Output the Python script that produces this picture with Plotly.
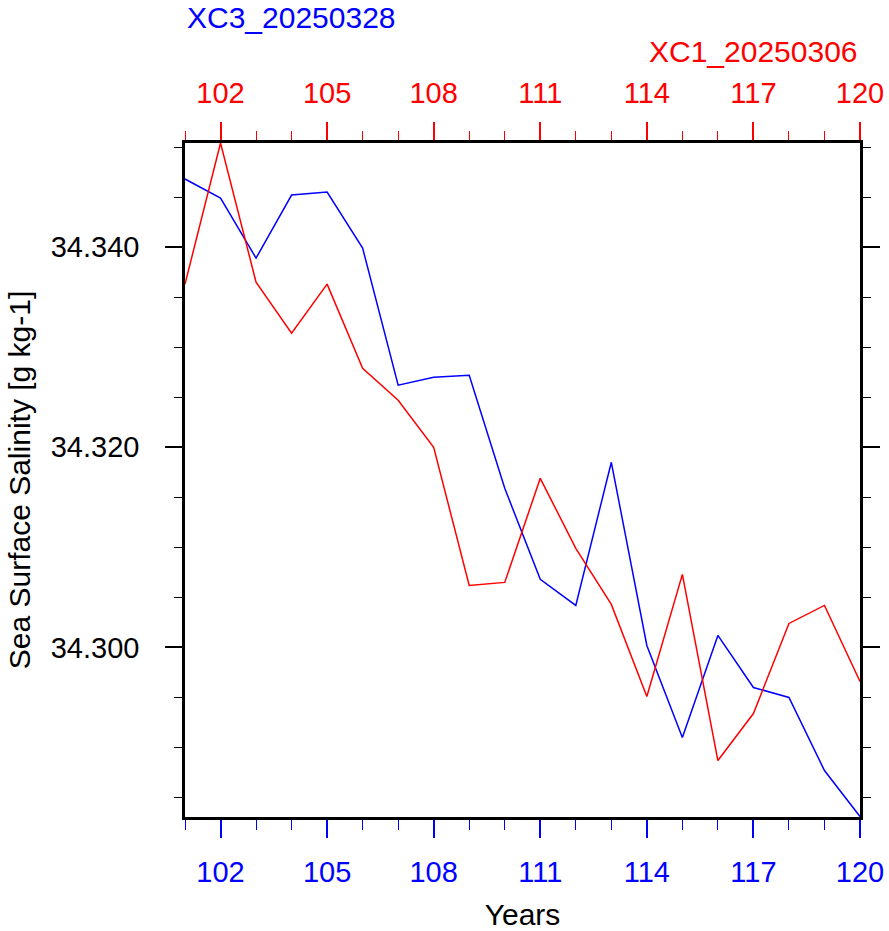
import plotly.graph_objects as go

years = list(range(101, 121))
xc3_sss = [34.3468, 34.3449, 34.3389, 34.3452, 34.3455, 34.3399, 34.3262, 34.3270,
           34.3272, 34.3159, 34.3068, 34.3042, 34.3185, 34.3002, 34.2910, 34.3012,
           34.2960, 34.2950, 34.2877, 34.2831]
xc1_sss = [34.3363, 34.3504, 34.3365, 34.3314, 34.3363, 34.3279, 34.3247, 34.3200,
           34.3062, 34.3065, 34.3169, 34.3099, 34.3043, 34.2951, 34.3073, 34.2887,
           34.2934, 34.3024, 34.3042, 34.2966]
x_ticks = [102, 105, 108, 111, 114, 117, 120]
y_ticks = [34.30, 34.32, 34.34]
y_tick_text = ["34.300", "34.320", "34.340"]
name_xc3 = "XC3_20250328"
name_xc1 = "XC1_20250306"

FONT = "Liberation Sans, Arial, Helvetica, sans-serif"
TICKSIZE = 29
TITLESIZE = 30

ymin = min(xc3_sss + xc1_sss) - 0.00004
ymax = max(xc3_sss + xc1_sss)

fig = go.Figure()
fig.add_trace(go.Scatter(x=years, y=xc3_sss, mode="lines", name=name_xc3,
                         line=dict(color="blue", width=1.5), xaxis="x", yaxis="y"))
fig.add_trace(go.Scatter(x=years, y=xc1_sss, mode="lines", name=name_xc1,
                         line=dict(color="red", width=1.5), xaxis="x2", yaxis="y"))

fig.update_layout(
    width=889, height=931,
    margin=dict(l=185, r=29, t=143, b=114, autoexpand=False),
    paper_bgcolor="white", plot_bgcolor="white",
    showlegend=False,
    font=dict(family=FONT, color="black"),
    xaxis=dict(
        range=[years[0], years[-1]], tickmode="array", tickvals=x_ticks,
        ticks="outside", ticklen=18, tickwidth=2, tickcolor="blue",
        tickfont=dict(size=TICKSIZE, color="blue", family=FONT),
        ticklabelstandoff=9, automargin=False,
        showline=True, linecolor="black", linewidth=2.5, mirror=True,
        showgrid=False, zeroline=False,
        minor=dict(tickmode="linear", tick0=101, dtick=1, ticks="outside",
                   ticklen=10, tickwidth=1, tickcolor="blue", showgrid=False),
        title=dict(text="Years", font=dict(size=TITLESIZE, color="black", family=FONT),
                   standoff=22),
    ),
    xaxis2=dict(
        range=[years[0], years[-1]], overlaying="x", side="top",
        tickmode="array", tickvals=x_ticks,
        ticks="outside", ticklen=18, tickwidth=2, tickcolor="red",
        tickfont=dict(size=TICKSIZE, color="red", family=FONT),
        ticklabelstandoff=8, automargin=False,
        showline=True, linecolor="black", linewidth=2.5,
        showgrid=False, zeroline=False,
        minor=dict(tickmode="linear", tick0=101, dtick=1, ticks="outside",
                   ticklen=9, tickwidth=1, tickcolor="red", showgrid=False),
    ),
    yaxis=dict(
        range=[ymin, ymax], tickmode="array", tickvals=y_ticks, ticktext=y_tick_text,
        ticks="outside", ticklen=17, tickwidth=2, tickcolor="black",
        tickfont=dict(size=TICKSIZE, color="black", family=FONT),
        ticklabelstandoff=20, automargin=False,
        showline=True, linecolor="black", linewidth=2.5, mirror="ticks",
        showgrid=False, zeroline=False,
        minor=dict(tickmode="linear", tick0=34.28, dtick=0.005, ticks="outside",
                   ticklen=8, tickwidth=1, tickcolor="black", showgrid=False),
        title=dict(text="Sea Surface Salinity [g kg-1]",
                   font=dict(size=TITLESIZE, color="black", family=FONT), standoff=12),
    ),
    annotations=[
        dict(text=name_xc3, xref="paper", yref="paper", x=0, y=1, xanchor="left",
             yanchor="middle", yshift=143 - 17.5, showarrow=False,
             font=dict(size=TITLESIZE, color="blue", family=FONT)),
        dict(text=name_xc1, xref="paper", yref="paper", x=1, y=1, xanchor="right",
             yanchor="middle", yshift=143 - 51.7, showarrow=False,
             font=dict(size=TITLESIZE, color="red", family=FONT)),
    ],
)

fig.write_html("out.html")
